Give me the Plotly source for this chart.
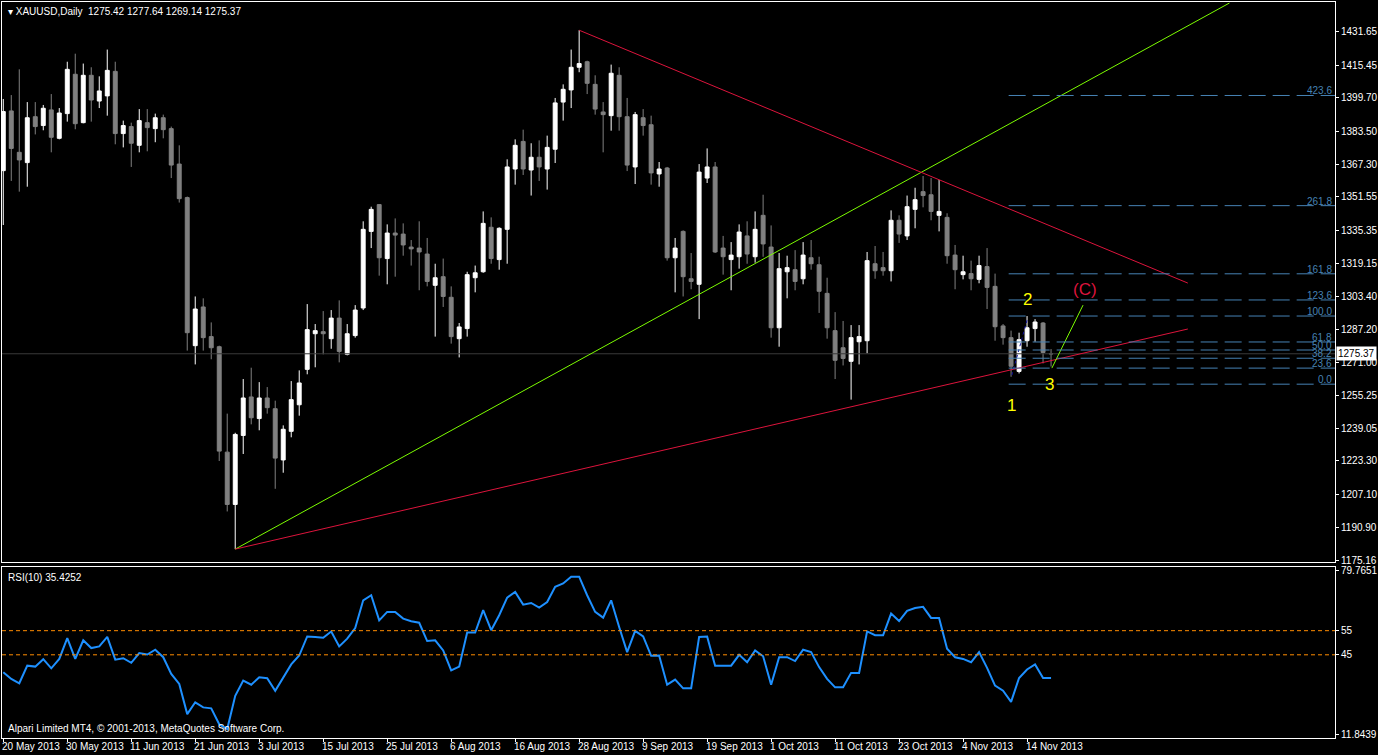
import plotly.graph_objects as go

# ---------------- data ----------------
opens = [1364.3,1393.3,1373.2,1368.2,1390.5,1386.2,1393.8,1380.0,1392.0,1411.1,
         1387.6,1410.6,1398.1,1400.6,1412.5,1382.3,1385.7,1376.6,1387.6,1384.7,
         1390.0,1384.7,1367.5,1351.2,1279.3,1298.1,1283.7,1278.8,1227.6,1202.2,
         1235.7,1254.4,1243.9,1253.9,1248.7,1223.8,1237.7,1250.6,1267.8,1285.1,
         1286.1,1282.7,1292.7,1275.1,1284.2,1297.6,1334.8,1347.8,1321.6,1334.0,
         1333.5,1327.2,1326.7,1323.8,1308.6,1312.8,1302.8,1282.7,1287.6,1312.3,
         1315.2,1336.8,1321.1,1335.8,1365.1,1378.5,1364.6,1370.8,1365.1,1374.7,
         1397.6,1403.5,1414.5,1417.2,1406.2,1392.8,1391.0,1410.6,1390.5,1366.1,
         1390.0,1386.6,1362.7,1365.6,1322.0,1334.8,1311.8,1309.1,1360.7,1366.1,
         1326.7,1321.1,1322.5,1332.6,1322.5,1342.6,1327.2,1288.0,1315.2,1316.2,
         1311.8,1322.0,1318.6,1304.7,1286.6,1278.3,1271.7,1281.2,1281.7,1319.1,
         1317.2,1315.7,1340.2,1332.6,1345.5,1354.1,1352.6,1342.6,1341.6,1323.3,
         1313.8,1314.3,1311.5,1317.7,1308.1,1288.9,1283.2,1266.8,1281.7,1287.6,
         1290.3,1275.42]
highs = [1399.1,1401.0,1413.5,1397.6,1397.6,1396.2,1401.5,1394.7,1417.2,1421.1,
         1416.3,1414.5,1410.1,1423.1,1417.2,1388.6,1387.6,1394.2,1394.2,1392.0,
         1391.5,1385.7,1376.6,1351.7,1303.2,1302.3,1290.6,1279.3,1246.3,1237.0,
         1263.1,1268.6,1261.6,1259.2,1252.6,1240.6,1262.1,1267.3,1299.5,1289.8,
         1296.1,1296.6,1301.3,1289.8,1299.0,1339.7,1346.8,1348.0,1338.2,1341.1,
         1338.7,1330.6,1339.7,1331.6,1319.1,1321.6,1308.1,1290.3,1315.2,1318.2,
         1344.5,1341.6,1336.8,1369.8,1379.5,1384.2,1377.6,1379.0,1381.3,1399.6,
         1406.2,1423.1,1432.5,1417.7,1410.6,1397.6,1415.8,1414.5,1399.6,1392.8,
         1394.2,1391.0,1368.5,1366.1,1331.6,1335.3,1324.3,1367.5,1375.1,1368.5,
         1332.6,1329.6,1338.2,1339.7,1344.5,1352.6,1337.7,1324.3,1323.0,1325.7,
         1329.6,1330.6,1322.5,1312.3,1295.6,1291.3,1289.3,1289.3,1324.8,1327.7,
         1324.8,1345.0,1342.6,1352.2,1356.0,1361.7,1360.7,1359.8,1343.6,1328.2,
         1323.0,1320.6,1323.0,1326.7,1314.3,1289.8,1286.6,1285.6,1293.7,1292.2,
         1290.8,1277.64]
lows = [1337.9,1359.3,1354.1,1356.5,1381.9,1383.9,1373.2,1379.5,1388.1,1384.4,
        1387.3,1388.1,1394.7,1391.0,1377.1,1375.6,1366.1,1373.2,1373.7,1378.1,
        1380.0,1360.7,1348.8,1276.9,1270.2,1276.9,1272.7,1223.3,1198.8,1180.5,
        1226.7,1241.1,1238.2,1246.3,1209.8,1217.6,1234.8,1245.3,1265.4,1268.8,
        1275.1,1277.8,1271.2,1274.6,1283.2,1296.6,1326.7,1313.3,1309.1,1312.8,
        1323.0,1318.2,1306.2,1308.1,1283.7,1298.1,1280.3,1273.6,1283.7,1305.2,
        1314.7,1319.1,1316.2,1319.1,1357.5,1362.2,1352.2,1359.3,1355.1,1368.0,
        1388.6,1394.7,1412.1,1401.5,1391.5,1373.2,1383.7,1383.7,1364.1,1357.8,
        1381.3,1357.5,1356.5,1320.6,1305.2,1303.2,1306.7,1292.2,1358.3,1324.3,
        1313.8,1306.2,1316.7,1319.1,1319.6,1322.5,1283.2,1278.8,1302.3,1306.2,
        1309.1,1316.2,1295.2,1282.7,1263.1,1269.7,1253.1,1270.2,1275.6,1311.8,
        1313.3,1310.5,1329.2,1330.6,1336.3,1346.5,1340.2,1334.8,1319.1,1306.7,
        1311.5,1306.2,1309.6,1297.1,1281.7,1279.8,1264.2,1265.8,1278.8,1281.2,
        1270.7,1269.14]
closes = [1393.0,1375.1,1369.5,1390.0,1385.7,1394.6,1380.5,1392.3,1413.5,1387.1,
          1410.6,1398.6,1403.0,1413.0,1382.3,1386.2,1377.6,1388.6,1385.2,1390.0,
          1384.2,1367.0,1350.7,1285.6,1297.1,1283.2,1278.3,1228.1,1202.2,1236.2,
          1253.9,1244.3,1253.9,1249.2,1224.7,1238.7,1253.1,1261.2,1287.1,1286.6,
          1285.1,1292.7,1276.5,1285.1,1296.6,1335.8,1345.5,1322.0,1334.0,1333.0,
          1328.2,1326.3,1324.8,1310.5,1312.3,1303.2,1283.7,1288.4,1313.8,1314.7,
          1338.7,1321.6,1336.3,1366.1,1376.6,1365.1,1370.8,1366.1,1375.6,1397.2,
          1403.8,1414.5,1416.3,1406.7,1394.2,1391.5,1411.6,1390.5,1367.0,1391.5,
          1386.2,1363.2,1365.1,1322.0,1326.7,1312.8,1310.5,1363.6,1366.1,1324.8,
          1322.5,1323.3,1334.5,1323.8,1335.8,1328.7,1288.0,1316.7,1317.2,1310.5,
          1323.3,1319.1,1305.7,1288.0,1272.2,1273.1,1283.2,1283.7,1320.6,1315.7,
          1315.7,1340.2,1333.5,1346.8,1350.2,1352.2,1344.5,1344.5,1323.0,1316.2,
          1315.2,1311.8,1318.2,1307.6,1288.5,1283.2,1269.3,1282.2,1288.0,1290.8,
          1276.0,1275.37]

rsi = [37.8,35.0,33.2,40.5,40.1,43.2,39.4,43.3,51.9,43.3,
       51.0,47.8,48.5,52.4,43.0,43.6,41.7,45.7,45.1,47.1,
       44.0,37.1,32.9,20.4,25.3,23.2,22.8,16.2,14.2,28.0,
       34.3,32.6,35.7,35.3,30.1,35.7,41.0,44.7,52.6,52.4,
       52.1,54.7,48.5,51.7,56.1,67.6,69.7,59.3,62.8,62.8,
       60.0,58.9,58.3,50.7,51.0,46.8,38.5,40.1,54.2,54.2,
       63.5,55.2,61.4,68.7,71.1,65.8,66.5,64.6,66.9,73.2,
       74.6,77.4,77.4,69.7,62.8,60.4,67.6,56.5,46.1,54.9,
       52.6,44.6,44.7,32.6,34.7,31.1,31.1,52.4,52.6,40.5,
       40.5,40.5,45.0,41.9,46.8,44.4,32.6,44.0,44.0,42.4,
       47.1,46.1,39.9,35.0,31.5,31.5,37.5,37.5,54.7,53.1,
       53.1,62.1,59.0,63.2,64.4,64.9,60.3,60.3,47.5,44.0,
       43.3,41.9,46.1,39.6,32.2,30.1,25.5,35.4,38.9,41.0,
       35.4,35.4]

date_labels = ["20 May 2013","30 May 2013","11 Jun 2013","21 Jun 2013","3 Jul 2013",
               "15 Jul 2013","25 Jul 2013","6 Aug 2013","16 Aug 2013","28 Aug 2013",
               "9 Sep 2013","19 Sep 2013","1 Oct 2013","11 Oct 2013","23 Oct 2013",
               "4 Nov 2013","14 Nov 2013"]
date_label_bars = [0,8,16,24,32,40,48,56,64,72,80,88,96,104,112,120,128]

price_ticks = [1431.65,1415.45,1399.70,1383.50,1367.30,1351.55,1335.35,1319.15,1303.40,
               1287.20,1271.00,1255.25,1239.05,1223.30,1207.10,1190.90,1175.16]
price_tick_text = ["1431.65","1415.45","1399.70","1383.50","1367.30","1351.55","1335.35","1319.15",
                   "1303.40","1287.20","1271.00","1255.25","1239.05","1223.30","1207.10","1190.90","1175.16"]
rsi_ticks = [79.7651,55,45,11.8439]
rsi_tick_text = ["79.7651","55","45","11.8439"]

fib_levels = ["423.6","261.8","161.8","123.6","100.0","61.8","50.0","38.2","23.6","0.0"]
fib_prices = [1400.8,1347.3,1314.2,1301.5,1293.7,1281.1,1277.2,1273.2,1268.4,1260.6]
fib_start_bar = 126

green_line_x = [29, 153.3]
green_line_y = [1180.5, 1445.7]
red_top_x = [72, 148.1]
red_top_y = [1432.5, 1309.7]
red_bottom_x = [29, 148.1]
red_bottom_y = [1180.5, 1287.4]
wave_line_x = [131.1, 135.0]
wave_line_y = [1268.4, 1299.0]
wave12_x = [126.1, 128.0]
wave12_y = [1265.0, 1291.7]
wave_labels = ["1", "2", "3", "(C)"]
wave_label_x = [126.0, 128.0, 130.8, 135.2]
wave_label_y = [1250.4, 1301.9, 1260.6, 1306.8]
wave_label_colors = ["#FFFF00", "#FFFF00", "#FFFF00", "#DC143C"]

last_price = 1275.37
rsi_levels = [55, 45]

# ---------------- figure ----------------
bars = list(range(len(closes)))
X_MIN, X_MAX = -0.16, 166.5
FONT = "Liberation Sans"

fig = go.Figure()
fig.add_trace(go.Candlestick(
    x=bars, open=opens, high=highs, low=lows, close=closes,
    increasing=dict(line=dict(color="#FFFFFF", width=1), fillcolor="#FFFFFF"),
    decreasing=dict(line=dict(color="#808080", width=1), fillcolor="#808080"),
    whiskerwidth=0, showlegend=False, xaxis="x", yaxis="y", hoverinfo="skip"))

fig.add_trace(go.Scatter(x=[X_MIN, X_MAX], y=[last_price, last_price], mode="lines",
                         line=dict(color="#3A3A3A", width=1), showlegend=False,
                         xaxis="x", yaxis="y", hoverinfo="skip"))

for lx, ly, col in [(green_line_x, green_line_y, "#7CFC00"),
                    (red_top_x, red_top_y, "#DC143C"),
                    (red_bottom_x, red_bottom_y, "#DC143C"),
                    (wave_line_x, wave_line_y, "#7CFC00")]:
    fig.add_trace(go.Scatter(x=lx, y=ly, mode="lines", line=dict(color=col, width=1),
                             showlegend=False, xaxis="x", yaxis="y", hoverinfo="skip"))
fig.add_trace(go.Scatter(x=wave12_x, y=wave12_y, mode="lines",
                         line=dict(color="#1010A0", width=1, dash="dot"),
                         showlegend=False, xaxis="x", yaxis="y", hoverinfo="skip"))

for lab, p in zip(fib_levels, fib_prices):
    fig.add_trace(go.Scatter(x=[fib_start_bar - 0.3, X_MAX], y=[p, p], mode="lines",
                             line=dict(color="#4682B4", width=1, dash="17px,7px"),
                             showlegend=False, xaxis="x", yaxis="y", hoverinfo="skip"))
    fig.add_annotation(x=X_MAX - 0.1, y=p, xref="x", yref="y", text=lab, showarrow=False,
                       xanchor="right", yanchor="bottom", yshift=-3,
                       font=dict(color="#4682B4", size=10, family=FONT))

for t, x, y, c in zip(wave_labels, wave_label_x, wave_label_y, wave_label_colors):
    fig.add_annotation(x=x, y=y, xref="x", yref="y", text=t, showarrow=False,
                       font=dict(color=c, size=17, family=FONT))

fig.add_trace(go.Scatter(x=bars[:len(rsi)], y=rsi, mode="lines",
                         line=dict(color="#1E90FF", width=2), showlegend=False,
                         xaxis="x2", yaxis="y2", hoverinfo="skip"))
for lv in rsi_levels:
    fig.add_trace(go.Scatter(x=[X_MIN, X_MAX], y=[lv, lv], mode="lines",
                             line=dict(color="#FF8C00", width=1, dash="4px,3px"),
                             showlegend=False, xaxis="x2", yaxis="y2", hoverinfo="skip"))

for b, lab in zip(date_label_bars, date_labels):
    fig.add_annotation(x=b, y=0, xref="x2", yref="paper", text=lab, showarrow=False,
                       xanchor="left", yanchor="top", yshift=-1, xshift=-3,
                       font=dict(color="#FFFFFF", size=10, family=FONT))

fig.add_annotation(x=0.003, y=1.0, xref="paper", yref="paper", showarrow=False,
                   xanchor="left", yanchor="top", yshift=-2,
                   text="▾ XAUUSD,Daily  1275.42 1277.64 1269.14 1275.37",
                   font=dict(color="#FFFFFF", size=10, family=FONT))
fig.add_annotation(x=0.003, y=0.2323, xref="paper", yref="paper", showarrow=False,
                   xanchor="left", yanchor="top", yshift=-3,
                   text="RSI(10) 35.4252", font=dict(color="#FFFFFF", size=10, family=FONT))
fig.add_annotation(x=0.003, y=0.0, xref="paper", yref="paper", showarrow=False,
                   xanchor="left", yanchor="bottom", yshift=2,
                   text="Alpari Limited MT4, © 2001-2013, MetaQuotes Software Corp.",
                   font=dict(color="#FFFFFF", size=10, family=FONT))
fig.add_annotation(x=1.0, y=last_price, xref="paper", yref="y", showarrow=False,
                   xanchor="left", xshift=1, text="1275.37", bgcolor="#FFFFFF",
                   borderpad=1, font=dict(color="#000000", size=10, family=FONT))

axis_common = dict(showgrid=False, zeroline=False, linecolor="#FFFFFF", linewidth=1,
                   mirror=True, showline=True, color="#FFFFFF")
fig.update_layout(
    width=1378, height=755, paper_bgcolor="#000000", plot_bgcolor="#000000",
    margin=dict(l=2, r=43, t=2, b=17, autoexpand=False), showlegend=False,
    font=dict(family=FONT, color="#FFFFFF", size=10),
    xaxis=dict(domain=[0, 1], range=[X_MIN, X_MAX], anchor="y", showticklabels=False,
               ticks="", rangeslider=dict(visible=False), automargin=False, **axis_common),
    yaxis=dict(domain=[0.239, 1], range=[1174.2, 1446.2], side="right", anchor="x",
               tickvals=price_ticks, ticktext=price_tick_text, ticks="outside", ticklen=3,
               tickcolor="#FFFFFF", automargin=False,
               tickfont=dict(size=10, color="#FFFFFF", family=FONT), **axis_common),
    xaxis2=dict(domain=[0, 1], range=[X_MIN, X_MAX], anchor="y2", tickvals=date_label_bars,
                ticktext=[""] * len(date_label_bars), ticks="outside", ticklen=3,
                tickcolor="#FFFFFF", automargin=False, **axis_common),
    yaxis2=dict(domain=[0, 0.2323], range=[10.5, 81.4], side="right", anchor="x2",
                tickvals=rsi_ticks, ticktext=rsi_tick_text, ticks="outside", ticklen=3,
                tickcolor="#FFFFFF", automargin=False,
                tickfont=dict(size=10, color="#FFFFFF", family=FONT), **axis_common),
)
fig.write_html("out.html", config={"displayModeBar": False},
               post_script="document.body.style.margin='0px';document.body.style.overflow='hidden';")
